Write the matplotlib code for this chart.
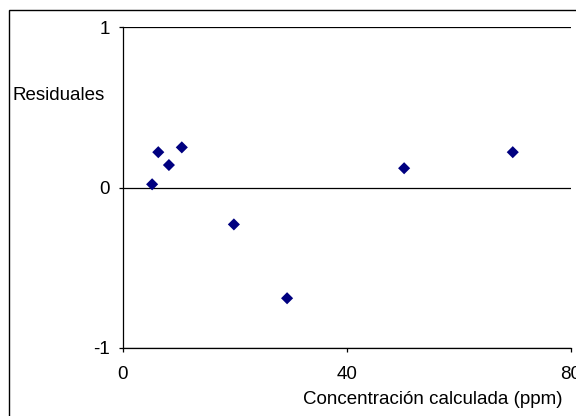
import matplotlib
matplotlib.use("Agg")
import matplotlib.pyplot as plt
from matplotlib.patches import Rectangle

# Data
concentracion = [5.2, 6.3, 8.2, 10.5, 19.8, 29.3, 50.2, 69.6]
residuales = [0.02, 0.22, 0.14, 0.25, -0.23, -0.69, 0.12, 0.22]
x_ticks = [0, 40, 80]
y_ticks = [-1, 0, 1]

plt.rcParams['font.family'] = ['Liberation Sans', 'DejaVu Sans']

fig = plt.figure(figsize=(5.76, 4.16), dpi=100)
W, H = 576, 416

# outer chart border (extends beyond right/bottom edges)
fig.patches.append(Rectangle((9 / W, -0.05), 1.2, 1 - 10 / H + 0.05,
                             transform=fig.transFigure, fill=False,
                             edgecolor='black', linewidth=1.0))

ax = fig.add_axes([123 / W, 1 - 348 / H, (571 - 123) / W, (348 - 27) / H])
ax.set_xlim(0, 80)
ax.set_ylim(-1, 1)

# horizontal gridlines
for yv in y_ticks:
    ax.axhline(yv, color='black', linewidth=0.9, zorder=1)

ax.scatter(concentracion, residuales, marker='D', s=38, color='#000080',
           edgecolors='none', zorder=3)

for side in ['top', 'right']:
    ax.spines[side].set_visible(False)
ax.spines['left'].set_linewidth(0.9)
ax.spines['bottom'].set_linewidth(0.9)

ax.set_xticks(x_ticks)
ax.set_yticks(y_ticks)
ax.set_xticklabels([str(v) for v in x_ticks])
ax.set_yticklabels([str(v) for v in y_ticks])
ax.tick_params(axis='both', direction='out', length=3, width=0.9,
               labelsize=13.5, colors='black')
ax.tick_params(axis='x', pad=10)
ax.tick_params(axis='y', pad=6.5)

fig.text(13 / W, 1 - 100 / H, 'Residuales', fontsize=13.5, ha='left',
         va='baseline')
fig.text(303 / W, 1 - 404 / H, 'Concentración calculada (ppm)', fontsize=13.5,
         ha='left', va='baseline')

fig.savefig('out.png', dpi=100)
